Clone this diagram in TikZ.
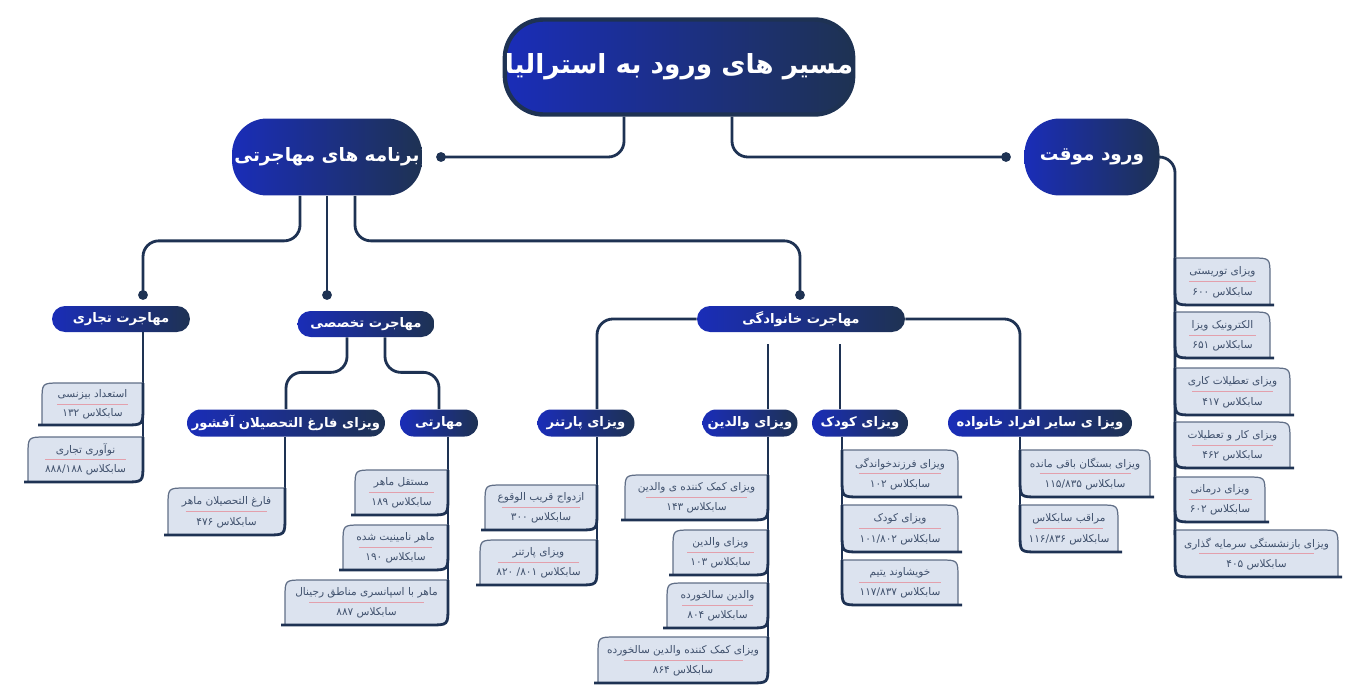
\documentclass[tikz,border=0pt]{standalone}
\usepackage{fontspec}
\usepackage{tikz}
\usetikzlibrary{positioning}
\usetikzlibrary{shapes.misc}
\newfontfamily\arabicfont[Script=Arabic]{DejaVu Sans}
\TeXXeTstate=1
\definecolor{navy}{HTML}{1E3253}
\definecolor{brightblue}{HTML}{1A2DB8}
\definecolor{cardfill}{HTML}{DCE3EF}
\definecolor{sepred}{HTML}{E3A0AC}
\newcommand{\fa}[1]{{\arabicfont\beginR #1\endR}}

\tikzset{
  pill/.style={rounded rectangle, left color=brightblue, right color=navy, text=white, inner sep=0pt, font=\bfseries},
  bigpill/.style={rectangle, left color=brightblue, right color=navy, text=white, inner sep=0pt, font=\bfseries},
  link/.style={navy, line width=1.6pt, rounded corners=9pt},
  cardtop/.style={navy!70, line width=0.7pt},
  cardbase/.style={navy, line width=1.6pt},
  cardsep/.style={sepred, line width=0.5pt},
  cardtxt/.style={inner sep=0pt, text=navy!85, font=\fontsize{6}{7}\selectfont}
}

% card hanging left of a trunk: xl xr ytop ybot title number name
\newcommand{\cardR}[7]{%
  \fill[cardfill] (#1,#4) -- (#1,{#3+18}) .. controls (#1,#3) .. ({#1+18},#3) -- (#2,#3) -- (#2,{#4-18}) .. controls (#2,#4) .. ({#2-18},#4) -- cycle;
  \draw[cardtop] (#1,#4) -- (#1,{#3+18}) .. controls (#1,#3) .. ({#1+18},#3) -- (#2,#3);
  \draw[cardbase] (#2,#3) -- (#2,{#4-18}) .. controls (#2,#4) .. ({#2-18},#4) -- ({#1-4},#4);
  \draw[cardsep] ({#1+0.15*(#2-#1)},{(#3+#4)/2}) -- ({#2-0.15*(#2-#1)},{(#3+#4)/2});
  \node[cardtxt] (#7-t) at ({(#1+#2)/2},{#3+0.29*(#4-#3)}) {\fa{#5}};
  \node[cardtxt] (#7-n) at ({(#1+#2)/2},{#3+0.73*(#4-#3)}) {\fa{سابکلاس #6}};
}
% card hanging right of a trunk
\newcommand{\cardL}[7]{%
  \fill[cardfill] (#2,#4) -- (#2,{#3+18}) .. controls (#2,#3) .. ({#2-18},#3) -- (#1,#3) -- (#1,{#4-18}) .. controls (#1,#4) .. ({#1+18},#4) -- cycle;
  \draw[cardtop] (#2,#4) -- (#2,{#3+18}) .. controls (#2,#3) .. ({#2-18},#3) -- (#1,#3);
  \draw[cardbase] (#1,#3) -- (#1,{#4-18}) .. controls (#1,#4) .. ({#1+18},#4) -- ({#2+4},#4);
  \draw[cardsep] ({#1+0.15*(#2-#1)},{(#3+#4)/2}) -- ({#2-0.15*(#2-#1)},{(#3+#4)/2});
  \node[cardtxt] (#7-t) at ({(#1+#2)/2},{#3+0.29*(#4-#3)}) {\fa{#5}};
  \node[cardtxt] (#7-n) at ({(#1+#2)/2},{#3+0.73*(#4-#3)}) {\fa{سابکلاس #6}};
}

\begin{document}
\begin{tikzpicture}[x=0.02cm, y=-0.02cm]
  \useasboundingbox (0,0) rectangle (1361,696);

  % main nodes
  \node[bigpill, rounded corners=22pt, minimum width=6.84cm, minimum height=1.9cm, draw=navy, line width=2.5pt,
        font=\bfseries\fontsize{15}{18}\selectfont] (root) at (679,67) {\fa{مسیر های ورود به استرالیا}};
  \node[bigpill, rounded corners=20pt, minimum width=3.8cm, minimum height=1.54cm,
        font=\bfseries\fontsize{10.5}{13}\selectfont] (barname) at (327,157) {\fa{برنامه های مهاجرتی}};
  \node[bigpill, rounded corners=20pt, minimum width=2.7cm, minimum height=1.54cm,
        font=\bfseries\fontsize{10.5}{13}\selectfont] (movaghat) at (1092,157) {\fa{ورود موقت}};

  \node[pill, minimum width=2.76cm, minimum height=0.52cm, font=\bfseries\fontsize{7.5}{9}\selectfont] (tejari) at (121,319) {\fa{مهاجرت تجاری}};
  \node[pill, minimum width=2.74cm, minimum height=0.52cm, font=\bfseries\fontsize{7.5}{9}\selectfont] (takhasosi) at (366,324) {\fa{مهاجرت تخصصی}};
  \node[pill, minimum width=4.16cm, minimum height=0.52cm, font=\bfseries\fontsize{7.5}{9}\selectfont] (khanevadegi) at (801,319) {\fa{مهاجرت خانوادگی}};

  \node[pill, minimum width=3.96cm, minimum height=0.54cm, font=\bfseries\fontsize{7.5}{9}\selectfont] (offshore) at (286,423) {\fa{ویزای فارغ التحصیلان آفشور}};
  \node[pill, minimum width=1.56cm, minimum height=0.54cm, font=\bfseries\fontsize{7.5}{9}\selectfont] (maharati) at (439,423) {\fa{مهارتی}};
  \node[pill, minimum width=1.94cm, minimum height=0.54cm, font=\bfseries\fontsize{7.5}{9}\selectfont] (partner) at (586,423) {\fa{ویزای پارتنر}};
  \node[pill, minimum width=1.9cm, minimum height=0.54cm, font=\bfseries\fontsize{7.5}{9}\selectfont] (valedein) at (750,423) {\fa{ویزای والدین}};
  \node[pill, minimum width=1.92cm, minimum height=0.54cm, font=\bfseries\fontsize{7.5}{9}\selectfont] (koodak) at (860,423) {\fa{ویزای کودک}};
  \node[pill, minimum width=3.68cm, minimum height=0.54cm, font=\bfseries\fontsize{7.5}{9}\selectfont] (sayer) at (1040,423) {\fa{ویزا ی سایر افراد خانواده}};

  % dots and trunk ends
  \coordinate (bdot) at (441,157);
  \coordinate (mdot) at (1006,157);
  \coordinate (tjdot) at (143,295);
  \coordinate (tkdot) at (327,295);
  \coordinate (khdot) at (800,295);
  \coordinate (vx) at (768,0);
  \coordinate (kx) at (840,0);
  \coordinate (tjend) at (143,440);
  \coordinate (ofend) at (285,490);
  \coordinate (mhend) at (448,585);
  \coordinate (ptend) at (597,545);
  \coordinate (vlend) at (768,640);
  \coordinate (kdend) at (842,565);
  \coordinate (syend) at (1020,510);
  \coordinate (mvend) at (1175,535);

  % connectors
  \draw[link] ([xshift=-1.1cm]root.south) |- (bdot);
  \draw[link] ([xshift=1.06cm]root.south) |- (mdot);
  \draw[link] ([xshift=-0.54cm]barname.south) -- ++(0,45) -| (tjdot);
  \draw[link] (barname.south) -- (tkdot);
  \draw[link] ([xshift=0.56cm]barname.south) -- ++(0,45) -| (khdot);
  \foreach \d in {bdot,mdot,tjdot,tkdot,khdot}
    \fill[navy] (\d) circle (2.8pt);

  \draw[link] (khanevadegi.west) -| ([xshift=0.22cm]partner.north);
  \draw[link] (khanevadegi.east) -| ([xshift=-0.4cm]sayer.north);
  \draw[link] ([yshift=-0.24cm]khanevadegi.south -| vx) -- (valedein.north -| vx);
  \draw[link] ([yshift=-0.24cm]khanevadegi.south -| kx) -- (koodak.north -| kx);
  \draw[link] ([xshift=-0.38cm]takhasosi.south) -- ++(0,35) -| (offshore.north);
  \draw[link] ([xshift=0.38cm]takhasosi.south) -- ++(0,35) -| (maharati.north);

  \draw[link] (tejari.south -| tjend) -- (tjend);
  \draw[link] (offshore.south -| ofend) -- (ofend);
  \draw[link] (maharati.south -| mhend) -- (mhend);
  \draw[link] (partner.south -| ptend) -- (ptend);
  \draw[link] (valedein.south -| vlend) -- (vlend);
  \draw[link] (koodak.south -| kdend) -- (kdend);
  \draw[link] (sayer.south -| syend) -- (syend);
  \draw[link] (movaghat.east) -| (mvend);

  % leaf cards
  \cardR{42}{143}{383}{425}{استعداد بیزنسی}{۱۳۲}{tj1}
  \cardR{28}{143}{437}{482}{نوآوری تجاری}{۸۸۸/۱۸۸}{tj2}
  \cardR{168}{285}{488}{535}{فارغ التحصیلان ماهر}{۴۷۶}{of1}
  \cardR{355}{448}{470}{515}{مستقل ماهر}{۱۸۹}{mh1}
  \cardR{343}{448}{525}{570}{ماهر نامینیت شده}{۱۹۰}{mh2}
  \cardR{285}{448}{580}{625}{ماهر با اسپانسری مناطق رجینال}{۸۸۷}{mh3}
  \cardR{485}{597}{485}{530}{ازدواج قریب الوقوع}{۳۰۰}{pt1}
  \cardR{480}{597}{540}{585}{ویزای پارتنر}{۸۰۱/ ۸۲۰}{pt2}
  \cardR{625}{768}{475}{520}{ویزای کمک کننده ی والدین}{۱۴۳}{vl1}
  \cardR{673}{768}{530}{575}{ویزای والدین}{۱۰۳}{vl2}
  \cardR{667}{768}{583}{628}{والدین سالخورده}{۸۰۴}{vl3}
  \cardR{598}{768}{637}{683}{ویزای کمک کننده والدین سالخورده}{۸۶۴}{vl4}
  \cardL{842}{958}{450}{497}{ویزای فرزندخواندگی}{۱۰۲}{kd1}
  \cardL{842}{958}{505}{552}{ویزای کودک}{۱۰۱/۸۰۲}{kd2}
  \cardL{842}{958}{560}{605}{خویشاوند یتیم}{۱۱۷/۸۳۷}{kd3}
  \cardL{1020}{1150}{450}{497}{ویزای بستگان باقی مانده}{۱۱۵/۸۳۵}{sy1}
  \cardL{1020}{1118}{505}{552}{مراقب سابکلاس}{۱۱۶/۸۳۶}{sy2}
  \cardL{1175}{1270}{258}{305}{ویزای توریستی}{۶۰۰}{mv1}
  \cardL{1175}{1270}{312}{358}{الکترونیک ویزا}{۶۵۱}{mv2}
  \cardL{1175}{1290}{368}{415}{ویزای تعطیلات کاری}{۴۱۷}{mv3}
  \cardL{1175}{1290}{422}{468}{ویزای کار و تعطیلات}{۴۶۲}{mv4}
  \cardL{1175}{1265}{477}{522}{ویزای درمانی}{۶۰۲}{mv5}
  \cardL{1175}{1338}{530}{577}{ویزای بازنشستگی سرمایه گذاری}{۴۰۵}{mv6}
\end{tikzpicture}
\end{document}
